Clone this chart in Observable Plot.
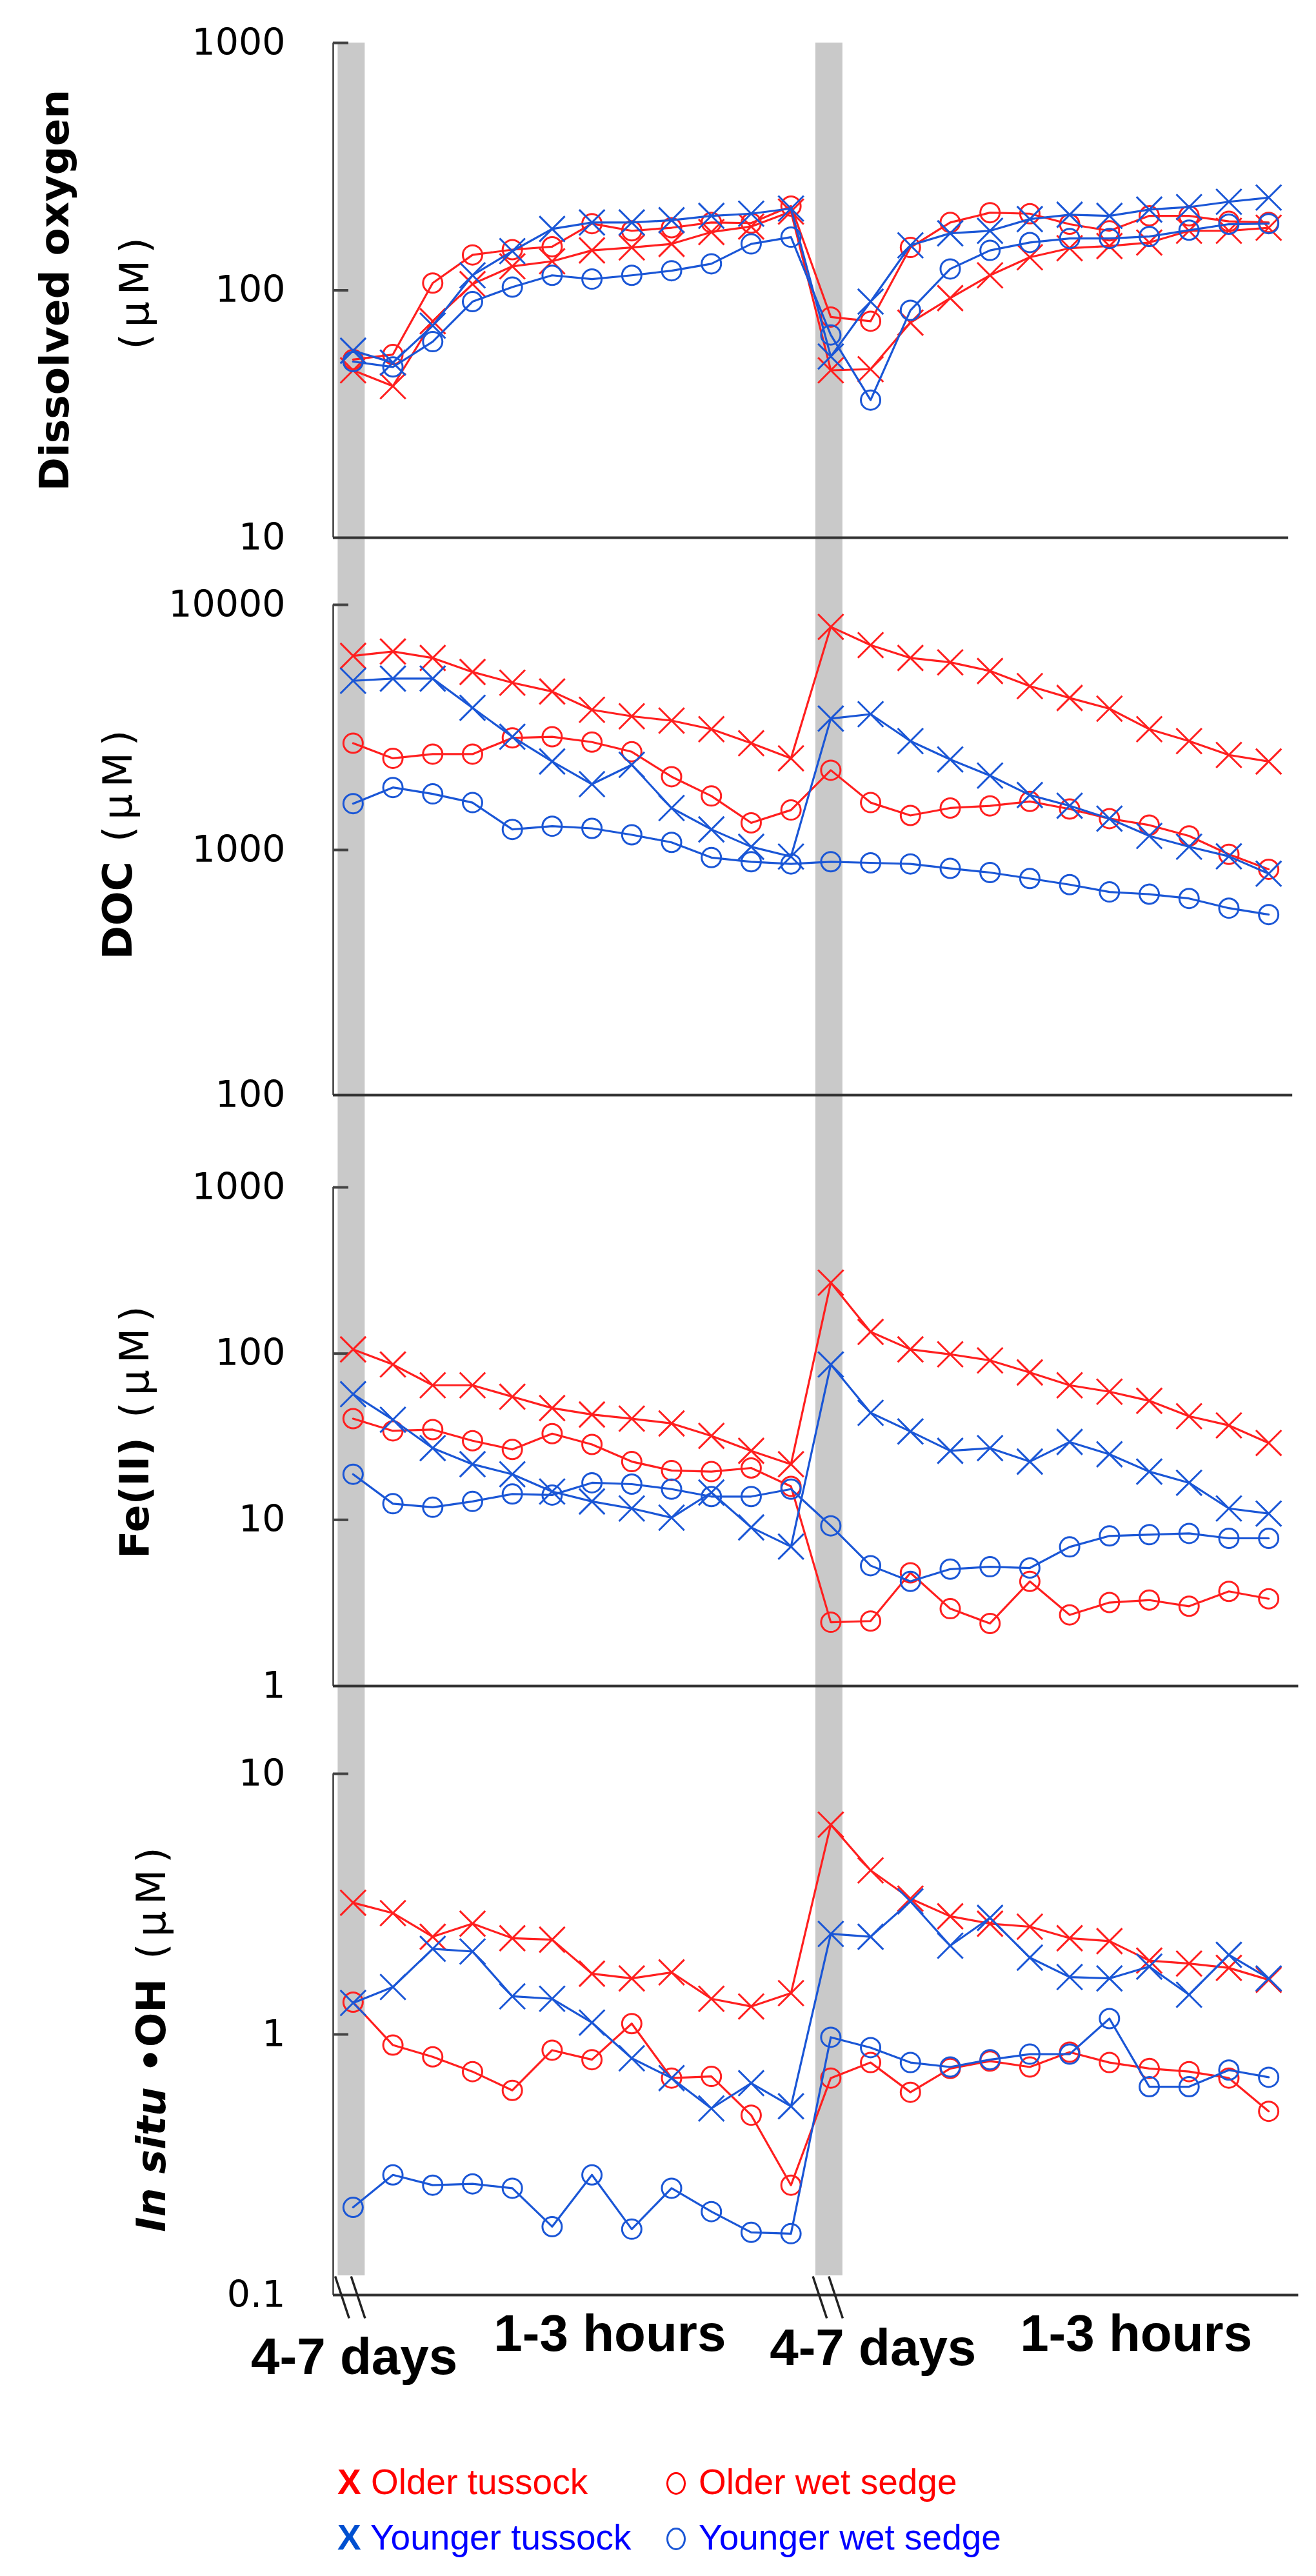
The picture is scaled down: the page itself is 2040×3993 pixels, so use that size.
<!DOCTYPE html>
<html>
<head>
<meta charset="utf-8">
<script src="https://cdn.jsdelivr.net/npm/d3@7"></script>
<script src="https://cdn.jsdelivr.net/npm/@observablehq/plot@0.6"></script>
<style>
  html, body { margin: 0; padding: 0; background: #fff; overflow: hidden; }
  #page { position: relative; width: 2040px; height: 3993px; overflow: hidden; background: #fff; }
  #page svg { display: block; overflow: visible; }
  .leg { position: absolute; font-family: "Liberation Sans", Arial, sans-serif; font-size: 55px; line-height: 55px; white-space: nowrap; }
  .ring { position: absolute; box-sizing: border-box; border-radius: 50%; border: 3px solid; }
</style>
</head>
<body>
<div id="page"></div>
<script>
// ---------------- data ----------------
const seriesNames = ["Older tussock", "Older wet sedge", "Younger tussock", "Younger wet sedge"];
const periodLabels = ["4-7 days", "1-3 hours", "4-7 days", "1-3 hours"];
const gapIndex = [0, 12];   // first sample after each wait period (grey bars)

// Dissolved oxygen (µM)
const oxygenOlderTussock   = [47.5, 41, 75, 106, 125, 131, 145, 149, 154, 172, 181, 208, 47.5, 48, 74, 93, 115, 136, 148, 151, 156, 174, 174, 179];
const oxygenOlderSedge     = [52.5, 55, 107, 139, 146, 150, 186, 174, 179, 188, 187, 219, 78, 75, 149, 188, 206, 204, 185, 174, 200, 200, 190, 188];
const oxygenYoungerTussock = [57, 51, 72, 115, 144, 177, 188, 188, 192, 200, 204, 214, 54, 90, 152, 170, 174, 194, 202, 200, 212, 217, 228, 237];
const oxygenYoungerSedge   = [51.5, 49, 62, 90, 103, 115, 111, 115, 120, 128, 154, 164, 66, 36, 83, 122, 145, 156, 162, 162, 165, 175, 185, 186];
const oxygenTicks = [10, 100, 1000];

// DOC (µM)
const docOlderTussock   = [6190, 6450, 6070, 5320, 4810, 4430, 3730, 3510, 3370, 3110, 2725, 2365, 8130, 6850, 6070, 5825, 5370, 4660, 4170, 3770, 3110, 2780, 2440, 2295];
const docOlderSedge     = [2725, 2365, 2460, 2460, 2865, 2895, 2755, 2515, 1990, 1660, 1290, 1455, 2115, 1560, 1383, 1483, 1513, 1577, 1469, 1342, 1263, 1141, 960, 834];
const docYoungerTussock = [4900, 5000, 5000, 3800, 2895, 2295, 1855, 2225, 1483, 1213, 1030, 940, 3435, 3580, 2780, 2340, 2010, 1675, 1515, 1342, 1141, 1031, 942, 800];
const docYoungerSedge   = [1545, 1798, 1693, 1560, 1213, 1250, 1225, 1153, 1074, 931, 895, 877, 895, 886, 877, 841, 809, 765, 722, 674, 660, 634, 579, 545];
const docTicks = [100, 1000, 10000];

// Fe(II) (µM)
const feOlderTussock   = [106, 86, 64.5, 64.5, 55, 47, 43, 40.6, 38, 32, 26, 21.6, 267, 135, 106, 99, 91, 77, 64.5, 59, 52, 42, 37, 29];
const feOlderSedge     = [40.6, 34.3, 34.9, 29.9, 26.5, 33, 28.4, 22.4, 19.8, 19.5, 20.5, 15.9, 2.42, 2.46, 4.8, 2.92, 2.38, 4.26, 2.68, 3.18, 3.29, 3.02, 3.71, 3.35];
const feYoungerTussock = [57, 40, 27, 21.6, 18.8, 14.8, 12.9, 11.7, 10.3, 14.6, 9.0, 6.9, 86, 44, 34, 26, 27, 22.4, 29.4, 24.8, 19.5, 16.7, 11.7, 10.9];
const feYoungerSedge   = [18.8, 12.5, 11.9, 12.9, 14.3, 14.1, 16.7, 16.4, 15.3, 13.8, 13.8, 15.3, 9.2, 5.3, 4.26, 5.05, 5.22, 5.13, 6.87, 8.0, 8.14, 8.28, 7.74, 7.74];
const feTicks = [1, 10, 100, 1000];

// In situ •OH (µM)
const ohOlderTussock   = [3.2, 2.92, 2.37, 2.66, 2.34, 2.31, 1.71, 1.64, 1.73, 1.37, 1.28, 1.44, 6.38, 4.26, 3.32, 2.84, 2.66, 2.59, 2.34, 2.28, 1.92, 1.87, 1.80, 1.62];
const ohOlderSedge     = [1.33, 0.91, 0.82, 0.72, 0.61, 0.87, 0.80, 1.10, 0.68, 0.69, 0.49, 0.264, 0.68, 0.78, 0.60, 0.74, 0.79, 0.75, 0.855, 0.78, 0.74, 0.72, 0.68, 0.507];
const ohYoungerTussock = [1.32, 1.52, 2.13, 2.08, 1.40, 1.37, 1.11, 0.81, 0.68, 0.52, 0.65, 0.53, 2.43, 2.37, 3.24, 2.19, 2.8, 1.97, 1.66, 1.64, 1.82, 1.42, 2.02, 1.64];
const ohYoungerSedge   = [0.217, 0.289, 0.264, 0.267, 0.257, 0.183, 0.289, 0.179, 0.257, 0.209, 0.174, 0.172, 0.975, 0.89, 0.78, 0.75, 0.80, 0.84, 0.84, 1.15, 0.63, 0.63, 0.73, 0.685];
const ohTicks = [0.1, 1, 10];

// ---------------- styling / layout ----------------
const RED = "#ff1f1f", BLUE = "#1a56d6", GREY = "#c9c9c9", AXIS = "#3a3a3a";
const seriesStyle = [
  {color: RED, symbol: "times"},
  {color: RED, symbol: "circle"},
  {color: BLUE, symbol: "times"},
  {color: BLUE, symbol: "circle"}
];
const W = 2040, ML = 516, MR = 43;
const frameW = W - ML - MR;
const labelFont = "DejaVu Sans, Verdana, sans-serif";

const panels = [
  {values: [oxygenOlderTussock, oxygenOlderSedge, oxygenYoungerTussock, oxygenYoungerSedge], domain: [10, 1000], ticks: oxygenTicks,
   mt: 66, fh: 767, mb: 52, axisEnd: 23.5, barTopPx: 0, barBottomPx: 52,
   labels: [{parts: [{t: "Dissolved oxygen", w: "bold"}], dx: -431, dy: 0},
            {parts: [{t: "(μM)", w: "normal", ls: 10}], dx: -307, dy: 0}]},
  {values: [docOlderTussock, docOlderSedge, docYoungerTussock, docYoungerSedge], domain: [100, 10000], ticks: docTicks,
   mt: 52, fh: 760, mb: 71, axisEnd: 23.6, barTopPx: 52, barBottomPx: 71,
   labels: [{parts: [{t: "DOC", w: "bold"}, {t: " (μM)", w: "normal", ls: 10}], dx: -333, dy: -13}]},
  {values: [feOlderTussock, feOlderSedge, feYoungerTussock, feYoungerSedge], domain: [1, 1000], ticks: feTicks,
   mt: 72, fh: 773, mb: 68, axisEnd: 23.75, barTopPx: 72, barBottomPx: 68,
   labels: [{parts: [{t: "Fe(II)", w: "bold"}, {t: " (μM)", w: "normal", ls: 10}], dx: -307, dy: -12}]},
  {values: [ohOlderTussock, ohOlderSedge, ohYoungerTussock, ohYoungerSedge], domain: [0.1, 10], ticks: ohTicks,
   mt: 68, fh: 808, mb: 203, axisEnd: 23.75, barTopPx: 68, barBottomPx: -30, bottom: true,
   labels: [{parts: [{t: "In situ", w: "bold", s: "italic"}, {t: " •OH", w: "bold"}, {t: " (μM)", w: "normal", ls: 10}], dx: -281, dy: 3}]}
];

// value that sits px pixels below the bottom of the frame (negative = above)
function atOffset(domain, fh, px) {
  const lo = Math.log10(domain[0]), hi = Math.log10(domain[1]);
  return 10 ** (lo - px * (hi - lo) / fh);
}

const page = document.getElementById("page");

panels.forEach((p, pi) => {
  const [lo, hi] = p.domain;
  const topVal = atOffset(p.domain, p.fh, -(p.fh + p.barTopPx));
  const botVal = atOffset(p.domain, p.fh, p.barBottomPx);
  const marks = [];

  // grey bars marking the wait periods
  marks.push(Plot.rect(gapIndex, {x1: d => d - 0.38, x2: d => d + 0.3, y1: () => topVal, y2: () => botVal, fill: GREY}));

  // axes
  marks.push(Plot.ruleX([-0.5], {y1: () => lo, y2: () => hi, stroke: AXIS, strokeWidth: 2.5}));
  marks.push(Plot.ruleY([lo], {x1: () => -0.5, x2: () => p.axisEnd, stroke: "#333", strokeWidth: 4}));
  marks.push(Plot.tickY(p.ticks.filter(t => t !== lo), {y: d => d, insetRight: frameW - 24, stroke: "#444", strokeWidth: 4}));
  marks.push(Plot.axisY({ticks: p.ticks, tickSize: 0, tickPadding: 74, tickFormat: d => String(d),
    fontSize: 57, fontFamily: labelFont, label: null}));

  // series
  p.values.forEach((vals, si) => {
    const st = seriesStyle[si];
    const rows = vals.map((v, i) => ({i, v, s: seriesNames[si]}));
    marks.push(Plot.line(rows, {x: "i", y: "v", stroke: st.color, strokeWidth: 3.2}));
    marks.push(Plot.dot(rows, {x: "i", y: "v", symbol: st.symbol, r: st.symbol === "times" ? 18 : 15,
      stroke: st.color, strokeWidth: 3, fill: "none"}));
  });

  // y-axis title(s)
  p.labels.forEach((lab, li) => {
    marks.push(Plot.text([0], {frameAnchor: "left", text: () => `__LBL${pi}_${li}__`, rotate: -90,
      dx: lab.dx, dy: lab.dy, fontSize: 63, fontFamily: labelFont, textAnchor: "middle", lineAnchor: "middle", fill: "#000"}));
  });

  if (p.bottom) {
    // axis break marks at each wait period
    const yTop = atOffset(p.domain, p.fh, -29), yBot = atOffset(p.domain, p.fh, 36);
    const breaks = gapIndex.flatMap(g => [{a: g - 0.45, b: g - 0.1}, {a: g - 0.05, b: g + 0.3}]);
    marks.push(Plot.link(breaks, {x1: "a", x2: "b", y1: () => yTop, y2: () => yBot, stroke: "#222", strokeWidth: 3.5}));
    // period labels
    const periodAt = [0.03, 6.45, 13.06, 19.67];
    const periodDrop = [122, 86, 108, 86];
    periodLabels.forEach((t, k) => {
      marks.push(Plot.text([t], {x: () => periodAt[k], frameAnchor: "bottom", text: d => d, dy: periodDrop[k],
        lineAnchor: "bottom", textAnchor: "middle", fontSize: 80, fontWeight: "bold",
        fontFamily: "Liberation Sans, Arial, sans-serif", fill: "#000"}));
    });
  }

  const svg = Plot.plot({
    width: W,
    height: p.mt + p.fh + p.mb,
    marginLeft: ML, marginRight: MR, marginTop: p.mt, marginBottom: p.mb,
    x: {domain: [-0.5, 23.5], axis: null},
    y: {type: "log", domain: p.domain, axis: null},
    style: {background: "transparent", overflow: "visible"},
    marks
  });

  // give the y titles their mixed bold / italic / normal styling
  p.labels.forEach((lab, li) => {
    const key = `__LBL${pi}_${li}__`;
    svg.querySelectorAll("text").forEach(el => {
      if (el.textContent === key) {
        el.textContent = "";
        lab.parts.forEach(part => {
          const ts = document.createElementNS("http://www.w3.org/2000/svg", "tspan");
          ts.textContent = part.t;
          ts.setAttribute("font-weight", part.w);
          if (part.s) ts.setAttribute("font-style", part.s);
          if (part.ls) ts.setAttribute("letter-spacing", part.ls);
          el.appendChild(ts);
        });
      }
    });
  });
  page.appendChild(svg);
});

// ---------------- legend (HTML, below the plots) ----------------
const legendTextColor = ["#ff0000", "#ff0000", "#0000ff", "#0000ff"];
const legendLeft = [523, 1033, 523, 1033];
const legendTop = [3820, 3820, 3906, 3906];
seriesNames.forEach((name, si) => {
  const st = seriesStyle[si];
  const d = document.createElement("div");
  d.className = "leg";
  d.style.left = (st.symbol === "times" ? legendLeft[si] : legendLeft[si] + 50) + "px";
  d.style.top = legendTop[si] + "px";
  d.style.color = legendTextColor[si];
  if (st.symbol === "times") {
    const b = document.createElement("b");
    b.textContent = "X";
    b.style.color = si < 2 ? "#ff0000" : "#0050d0";
    d.appendChild(b);
    d.appendChild(document.createTextNode(" " + name));
  } else {
    d.textContent = name;
    const ring = document.createElement("div");
    ring.className = "ring";
    ring.style.left = legendLeft[si] + "px";
    ring.style.top = (legendTop[si] + 12) + "px";
    ring.style.width = "30px";
    ring.style.height = "35px";
    ring.style.borderColor = si < 2 ? "#ff0000" : BLUE;
    page.appendChild(ring);
  }
  page.appendChild(d);
});
</script>
</body>
</html>
